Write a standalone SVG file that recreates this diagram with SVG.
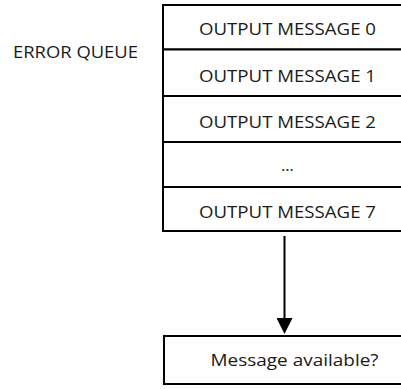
<svg xmlns="http://www.w3.org/2000/svg" width="401" height="389" viewBox="0 0 401 389">
  <defs>
    <style>
      .box { fill: #ffffff; stroke: #000000; stroke-width: 2; }
      .lbl { font-family: "Open Sans", "Liberation Sans", Arial, sans-serif; font-size: 16.5px; fill: #1a1a1a; }
      .mid { text-anchor: middle; }
      .wire { stroke: #000000; stroke-width: 2; fill: none; }
    </style>
    <marker id="arrowhead" markerWidth="16" markerHeight="16" refX="0" refY="8" orient="auto" markerUnits="userSpaceOnUse">
      <polygon points="0,0 16,8 0,16" fill="#000000"/>
    </marker>
  </defs>

  <rect width="401" height="389" fill="#ffffff"/>

  <g id="error-queue-label">
    <text class="lbl" x="13" y="58" textLength="125" lengthAdjust="spacingAndGlyphs">ERROR QUEUE</text>
  </g>

  <!-- stacked queue slots -->
  <g id="slot-0">
    <rect class="box" x="163" y="5" width="250" height="44.5"/>
    <text class="lbl mid" x="287.5" y="35" textLength="177" lengthAdjust="spacingAndGlyphs">OUTPUT MESSAGE 0</text>
  </g>
  <g id="slot-1">
    <rect class="box" x="163" y="49.5" width="250" height="46.5"/>
    <text class="lbl mid" x="287.5" y="81.5" textLength="177" lengthAdjust="spacingAndGlyphs">OUTPUT MESSAGE 1</text>
  </g>
  <g id="slot-2">
    <rect class="box" x="163" y="96" width="250" height="46"/>
    <text class="lbl mid" x="287.5" y="128" textLength="177" lengthAdjust="spacingAndGlyphs">OUTPUT MESSAGE 2</text>
  </g>
  <g id="slot-ellipsis">
    <rect class="box" x="163" y="142" width="250" height="45"/>
    <text class="lbl mid" x="287.5" y="171">…</text>
  </g>
  <g id="slot-7">
    <rect class="box" x="163" y="187" width="250" height="44"/>
    <text class="lbl mid" x="287.5" y="218" textLength="177" lengthAdjust="spacingAndGlyphs">OUTPUT MESSAGE 7</text>
  </g>

  <g id="message-available">
    <rect class="box" x="164" y="336" width="262" height="48"/>
    <text class="lbl mid" x="294.5" y="366" textLength="168" lengthAdjust="spacingAndGlyphs">Message available?</text>
  </g>

  <g id="connectors">
    <line class="wire" x1="284.5" y1="236" x2="284.5" y2="318" marker-end="url(#arrowhead)"/>
  </g>
</svg>
